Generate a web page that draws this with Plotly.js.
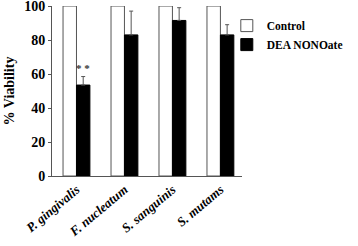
<!DOCTYPE html>
<html>
<head>
<meta charset="utf-8">
<script src="https://cdn.plot.ly/plotly-3.0.1.min.js"></script>
<style>
  html, body { margin: 0; padding: 0; background: #fff; }
  #chart { width: 358px; height: 246px; }
</style>
</head>
<body>
<div id="chart"></div>
<script>
// species on the x axis
const species = ['P. gingivalis', 'F. nucleatum', 'S. sanguinis', 'S. mutams'];
const controlVals = [100, 100, 100, 100];
const deaVals = [53.5, 83, 91.5, 83];
const deaErr = [5, 14, 7.5, 6];
const yTicks = [0, 20, 40, 60, 80, 100];

const serif = 'Times New Roman';

const control = {
    x: species,
    y: controlVals,
    name: 'Control',
    type: 'bar',
    marker: { color: '#ffffff', line: { color: '#555555', width: 1 } }
};

const dea = {
    x: species,
    y: deaVals,
    name: 'DEA NONOate',
    type: 'bar',
    marker: { color: '#000000', line: { color: '#000000', width: 1 } },
    error_y: {
        type: 'data', symmetric: false,
        array: deaErr, arrayminus: deaErr.map(() => 0),
        color: '#555555', thickness: 1, width: 2
    }
};

const layout = {
    width: 358,
    height: 246,
    margin: { l: 52, r: 116, t: 6, b: 70, autoexpand: false },
    paper_bgcolor: '#ffffff',
    plot_bgcolor: '#ffffff',
    barmode: 'group',
    bargap: 0.44,
    bargroupgap: 0,
    font: { family: serif, color: '#000000' },
    xaxis: {
        range: [-0.51, 3.45],
        showline: true, linecolor: '#555555', linewidth: 1,
        ticks: '', tickangle: -40,
        tickfont: { family: serif, size: 13, weight: 'bold', style: 'italic' }
    },
    yaxis: {
        range: [0, 100],
        tickvals: yTicks,
        showgrid: false, zeroline: false,
        showline: true, linecolor: '#555555', linewidth: 1,
        ticks: 'outside', ticklen: 3, tickcolor: '#555555',
        ticklabeloverflow: 'allow',
        tickfont: { family: serif, size: 14, weight: 'bold' },
        title: { text: '% Viability', font: { family: serif, size: 14, weight: 'bold' }, standoff: 6 }
    },
    legend: {
        x: 0.92, y: 0.97, xanchor: 'left', yanchor: 'top',
        bgcolor: 'rgba(0,0,0,0)',
        font: { family: serif, size: 11.5, weight: 'bold', color: '#000000' },
        tracegroupgap: 22, itemwidth: 30
    },
    annotations: [{
        x: 0.14, y: deaVals[0] + deaErr[0] + 0.5, xref: 'x', yref: 'y',
        text: '* *', showarrow: false, yanchor: 'bottom',
        font: { family: serif, size: 11, weight: 'bold', color: '#333333' }
    }],
    showlegend: true
};

Plotly.newPlot('chart', [control, dea], layout, { displayModeBar: false, staticPlot: true });
</script>
</body>
</html>
